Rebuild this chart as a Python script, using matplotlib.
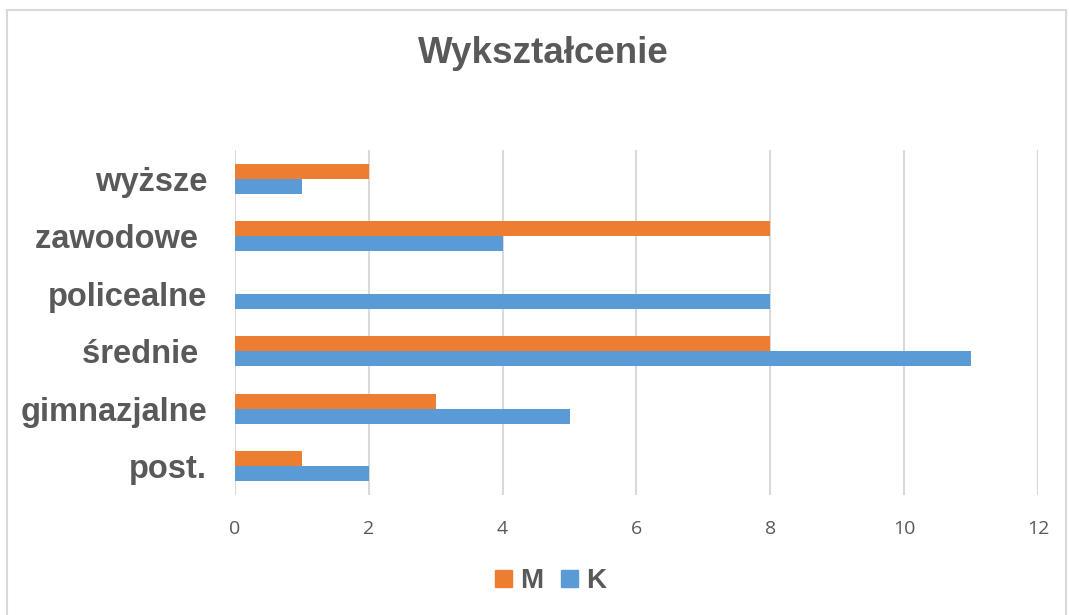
import numpy as np
import matplotlib.pyplot as plt
from matplotlib.patches import Rectangle, Patch

plt.rcParams['font.family'] = ['Liberation Sans', 'DejaVu Sans']

# Data (bottom to top)
categories = ['post.', 'gimnazjalne', 'średnie ', 'policealne', 'zawodowe ', 'wyższe']
values_m = [1, 3, 8, 0, 8, 2]
values_k = [2, 5, 11, 8, 4, 1]

text_color = '#595959'
col_m = '#ED7D31'
col_k = '#5B9BD5'
grid_color = '#D9D9D9'

fig = plt.figure(figsize=(10.69, 6.15), dpi=100)
ax = fig.add_axes([0.2198, 0.195, 0.7512, 0.561])

y = np.arange(len(categories))
h = 0.26
ax.barh(y + h / 2, values_m, height=h, color=col_m, label='M', zorder=3)
ax.barh(y - h / 2, values_k, height=h, color=col_k, label='K', zorder=3)

ax.set_xlim(0, 12)
ax.set_ylim(-0.5, len(categories) - 0.5)
ax.set_xticks(range(0, 13, 2))
ax.set_yticks(y)
ax.set_yticklabels(categories, fontsize=23.5, fontweight='bold', color=text_color)
ax.tick_params(axis='y', length=0, pad=20)
ax.tick_params(axis='x', length=0, pad=18, labelsize=14, labelcolor=text_color)
for lbl in ax.get_xticklabels():
    lbl.set_family(['Open Sans', 'DejaVu Sans'])
ax.grid(axis='x', color=grid_color, linewidth=1.5, zorder=0)
for s in ax.spines.values():
    s.set_visible(False)

fig.text(0.508, 0.913, 'Wykształcenie', ha='center', va='center',
         fontsize=26.5, fontweight='bold', color=text_color)

handles = [Patch(color=col_m), Patch(color=col_k)]
fig.legend(handles, ['M', 'K'], loc='center', bbox_to_anchor=(0.515, 0.055),
           ncol=2, frameon=False, prop={'size': 20, 'weight': 'bold'},
           labelcolor=text_color, handlelength=0.6, handleheight=0.6,
           handletextpad=0.3, columnspacing=0.65)

# chart border
fig.patches.append(Rectangle((7 / 1069, -0.01), (1066 - 7) / 1069, 1 - 10 / 615 + 0.01,
                             transform=fig.transFigure, fill=False,
                             edgecolor=grid_color, linewidth=1.5))

fig.savefig('out.png', dpi=100)
